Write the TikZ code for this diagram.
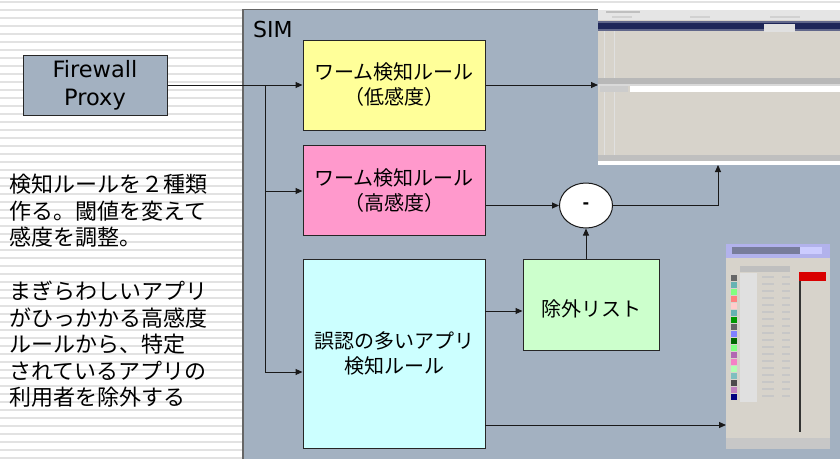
\documentclass[tikz,border=0pt]{standalone}
\usepackage{fontspec}
\setmainfont{Noto Sans CJK JP}
\newfontfamily\latinfont{DejaVu Sans}
\usetikzlibrary{arrows.meta,shapes.geometric}
\definecolor{panelc}{HTML}{A3B1C1}
\definecolor{yellowc}{HTML}{FFFF99}
\definecolor{pinkc}{HTML}{FF99CC}
\definecolor{cyanc}{HTML}{CCFFFF}
\definecolor{greenc}{HTML}{CCFFCC}
\definecolor{ssbg}{HTML}{D7D3CB}
\definecolor{navyc}{HTML}{1E2658}
\definecolor{stripec}{HTML}{E2E2E2}
\tikzset{
  stripe/.style={stripec, line width=2pt},
  rulebox/.style={draw=black!85, line width=1pt, align=center, inner sep=0pt,
     font=\fontsize{20}{25}\selectfont, minimum width=182pt,
     execute at begin node={\rule{0pt}{26pt}}},
  conn/.style={draw=black!90, line width=1pt, -{Triangle[length=7pt,width=6pt]}},
  plainline/.style={draw=black!90, line width=1pt},
  desc/.style={anchor=base west, align=left, inner sep=0pt,
     font=\fontsize{22}{26.5}\selectfont},
}
\begin{document}
\begin{tikzpicture}[x=1pt,y=-1pt]
\useasboundingbox (0,0) rectangle (840,458);
\fill[white] (0,0) rectangle (840,458);
\foreach \yy in {1.5,9.5,...,458} \draw[stripe] (0,\yy) -- (840,\yy);

% SIM panel
\node[fill=panelc, draw=black!60, line width=1pt, anchor=north west,
      minimum width=610pt, minimum height=460pt, inner sep=0pt] (sim) at (243,9) {};
\draw[black!60, line width=2.5pt] (sim.north west) -- (sim.south west);
\node[anchor=base west, inner sep=0pt, font=\latinfont\fontsize{22}{26}\selectfont] (simlabel) at (253,37) {SIM};

% Firewall Proxy
\node[fill=panelc, draw=black!85, line width=1pt, minimum width=144pt, minimum height=60pt,
      align=center, inner sep=0pt, font=\latinfont\fontsize{22.5}{28}\selectfont,
      execute at begin node={\rule{0pt}{27pt}}] (fw) at (95,85) {Firewall\\Proxy};

% rule boxes
\node[rulebox, fill=yellowc, minimum height=90pt] (yellow) at (394,85) {ワーム検知ルール\\（低感度）};
\node[rulebox, fill=pinkc, minimum height=90pt] (pink) at (394,190.5) {ワーム検知ルール\\（高感度）};
\node[rulebox, fill=cyanc, minimum height=189pt] (cyan) at (394,353.5) {誤認の多いアプリ\\検知ルール};
\node[rulebox, fill=greenc, minimum width=136pt, minimum height=91pt] (green) at (591,304.5) {除外リスト};
\node[ellipse, draw=black!90, fill=white, line width=1pt, minimum width=53pt, minimum height=45pt,
      inner sep=0pt, font=\latinfont\bfseries\fontsize{16}{16}\selectfont] (minus) at (586,205.5) {-};

% screenshot 1
\node[fill=ssbg, anchor=north west, minimum width=242pt, minimum height=157pt, inner sep=0pt] (ss1) at (598,8) {};
\fill[white!90!black] (598,8) rectangle (840,20);
\fill[white] (598,8) rectangle (840,10);
\fill[black!25] (606,11) rectangle (640,13);
\fill[black!18] (612,16) rectangle (632,18);
\fill[black!18] (690,16) rectangle (710,18);
\fill[black!18] (770,16) rectangle (800,18);
\fill[navyc!70!white] (598,21) rectangle (840,31);
\fill[navyc] (598,23) rectangle (840,29);
\fill[black!12] (764,24) rectangle (795,32);
\draw[black!12, line width=0.6pt] (604,31) -- (604,78) (614,31) -- (614,78);
\fill[black!28] (598,78) rectangle (840,84);
\fill[black!15] (598,84) rectangle (840,86);
\fill[white] (630,86) rectangle (840,92);
\fill[black!20] (600,86) rectangle (628,92);
\draw[black!12, line width=0.6pt] (604,92) -- (604,155) (614,92) -- (614,155);
\fill[black!25] (598,155) rectangle (840,161);
\fill[white] (598,161) rectangle (840,165);

% screenshot 2
\node[fill=ssbg, anchor=north west, minimum width=104pt, minimum height=205pt, inner sep=0pt] (ss2) at (726,244) {};
\fill[black!25!blue!30!white] (726,244) rectangle (830,258);
\fill[navyc!60!white] (732,247) rectangle (800,254);
\fill[white!80!blue] (800,247) rectangle (822,254);
\fill[black!25] (740,266) rectangle (790,272);
\fill[black!12] (740,273) rectangle (757,402);
\foreach \c [count=\i] in {black!60, teal!60, green!50, red!50, pink!80, teal!60, green!60!black, black!60, blue!50, green!40!black, green!50, violet!60, magenta!50, green!30, teal!50, black!70, violet!50, blue!50!black}
  \fill[\c] (731,{268+7*\i}) rectangle (737,{274+7*\i});
\foreach \i in {1,...,18}
  {\fill[black!22] (762,{269+7*\i}) rectangle (774,{271+7*\i});
   \fill[black!22] (782,{269+7*\i}) rectangle (790,{271+7*\i});}
\fill[red!85!black] (799,272) rectangle (826,281);
\draw[black!80, line width=1.5pt] (800,281) -- (800,432);
\fill[black!22] (726,438) rectangle (830,449);

% connectors
\coordinate (j1) at (265,85);
\coordinate (jp) at (265,191);
\coordinate (j2) at (265,372);
\coordinate (cg) at (485,311);
\coordinate (cs) at (485,425);
\coordinate (up) at (718,165);
\draw[conn] (fw.east) -- (yellow.west);
\draw[plainline] (j1) -- (j2);
\draw[conn] (jp) -- (jp -| pink.west);
\draw[conn] (j2) -- (j2 -| cyan.west);
\draw[conn] (yellow.east) -- (yellow.east -| ss1.west);
\draw[conn] (minus.west -| pink.east) -- (minus.west);
\draw[conn] (minus.south |- green.north) -- (minus.south);
\draw[conn] (minus.east) -| (up);
\draw[conn] (cg) -- (cg -| green.west);
\draw[conn] (cs) -- (cs -| ss2.west);

% descriptions
\node[desc] (desc1) at (9,245.6) {検知ルールを２種類\\作る。閾値を変えて\\感度を調整。};
\node[desc] (desc2) at (9,405.6) {まぎらわしいアプリ\\がひっかかる高感度\\ルールから、特定\\されているアプリの\\利用者を除外する};
\end{tikzpicture}
\end{document}
